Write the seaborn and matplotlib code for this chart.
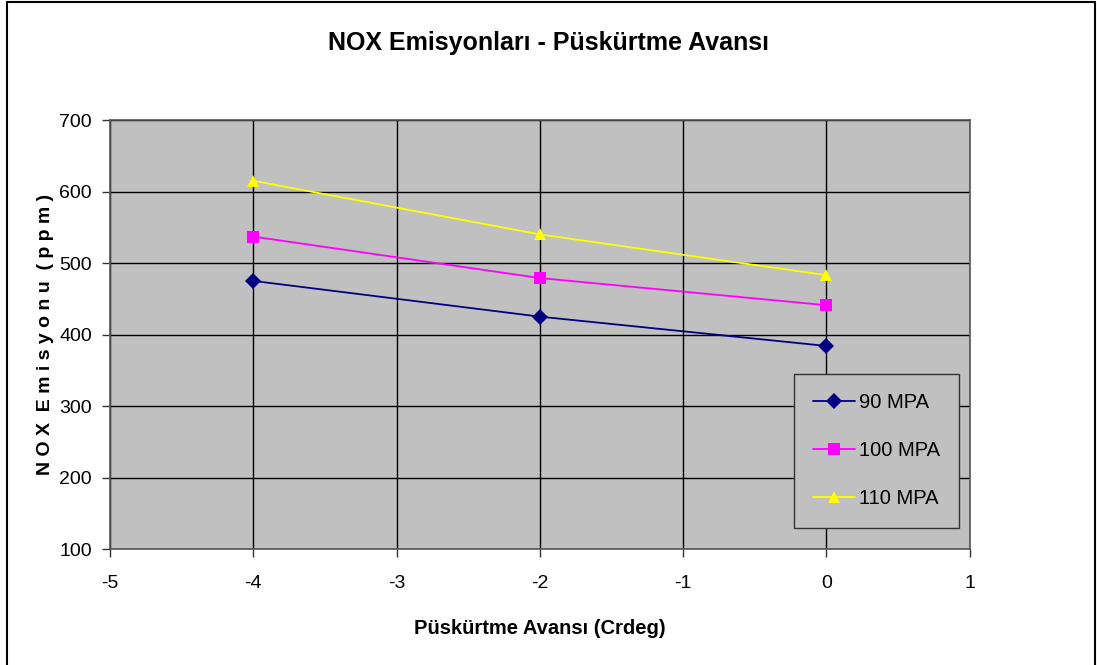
import matplotlib
matplotlib.use("Agg")
import matplotlib.pyplot as plt
from matplotlib.lines import Line2D
import seaborn as sns
import pandas as pd

# Injection advance (crank degrees) and NOx emission per injection pressure
advance = [-4, -2, 0]
nox_90 = [475, 425, 384]
nox_100 = [537, 479, 441]
nox_110 = [615, 540, 483]
series_names = ["90 MPA", "100 MPA", "110 MPA"]

df = pd.DataFrame({
    "advance": advance * 3,
    "nox": nox_90 + nox_100 + nox_110,
    "series": [s for s in series_names for _ in advance],
})

sns.set_theme(style="white")
plt.rcParams["font.family"] = ["Liberation Sans", "DejaVu Sans"]
plt.rcParams["axes.unicode_minus"] = False
plt.rcParams["text.color"] = "black"
plt.rcParams["axes.labelcolor"] = "black"
plt.rcParams["xtick.color"] = "black"
plt.rcParams["ytick.color"] = "black"

fig = plt.figure(figsize=(10.97, 6.65), dpi=100)
ax = fig.add_axes([0.1003, 0.1744, 0.7837, 0.6451])

palette = {"90 MPA": "#000080", "100 MPA": "#FF00FF", "110 MPA": "#FFFF00"}
markers = {"90 MPA": "D", "100 MPA": "s", "110 MPA": "^"}

sns.lineplot(data=df, x="advance", y="nox", hue="series", style="series",
             palette=palette, markers=markers, dashes=False,
             markersize=8, linewidth=1.3, markeredgewidth=0,
             ax=ax, legend=True, zorder=3)

ax.set_facecolor("#C0C0C0")
ax.set_xlim(-5, 1)
ax.set_ylim(100, 700)
ax.set_xticks(range(-5, 2))
ax.set_yticks(range(100, 701, 100))
ax.grid(True, color="black", linewidth=1.0)
ax.set_axisbelow(True)
for sp in ax.spines.values():
    sp.set_visible(True)
    sp.set_color("#555555")
    sp.set_linewidth(1.2)
ax.tick_params(axis="both", direction="out", length=6, width=1, color="#333333",
               labelsize=14, bottom=True, left=True)
ax.tick_params(axis="x", pad=13)
ax.tick_params(axis="y", pad=7)

ax.set_xlabel("Püskürtme Avansı (Crdeg)", fontsize=14.5, fontweight="bold",
              labelpad=19)
ax.set_ylabel("N O X  E m i s y o n u  ( p p m )", fontsize=14, fontweight="bold",
              labelpad=4)

fig.text(0.5, 0.935, "NOX Emisyonları - Püskürtme Avansı", ha="center", va="center",
         fontsize=18, fontweight="bold")

leg = ax.legend(loc="lower right", bbox_to_anchor=(0.988, 0.05),
                fontsize=14.5, frameon=True, fancybox=False,
                facecolor="#C0C0C0", edgecolor="#333333", framealpha=1,
                labelspacing=1.45, handlelength=2.1, handletextpad=0.2,
                borderpad=0.95, borderaxespad=0)
leg.get_frame().set_linewidth(1.0)

# Outer frame around the chart (left, top and right edges)
frame_kw = dict(transform=fig.transFigure, color="black", linewidth=1.5)
fig.add_artist(Line2D([7 / 1097, 7 / 1097], [0, 1 - 2 / 665], **frame_kw))
fig.add_artist(Line2D([7 / 1097, 1095 / 1097], [1 - 2 / 665, 1 - 2 / 665], **frame_kw))
fig.add_artist(Line2D([1095 / 1097, 1095 / 1097], [0, 1 - 2 / 665], **frame_kw))

fig.savefig("out.png", dpi=100, facecolor="white")
